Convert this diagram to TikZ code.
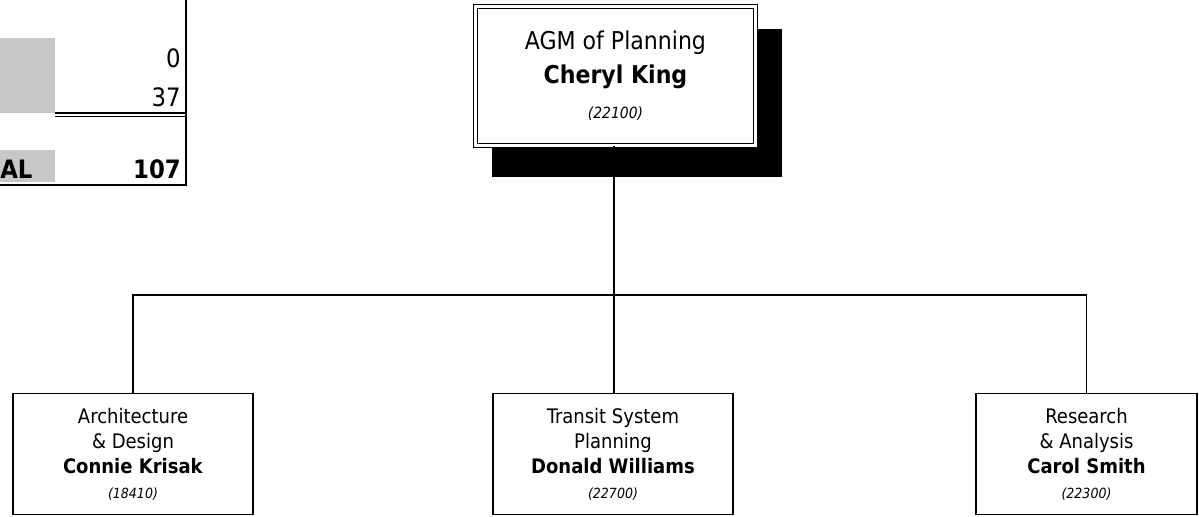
\documentclass[tikz,border=0pt]{standalone}
\usepackage{fontspec}
\setmainfont{DejaVu Sans Condensed}
\begin{document}
\begin{tikzpicture}[x=0.75pt,y=-0.75pt,
  conn/.style={line width=0.8pt,black},
  unitbox/.style={draw,line width=1pt,fill=white,minimum width=240*0.75pt,minimum height=121*0.75pt,
    inner sep=0pt,align=center,font=\fontsize{15}{18.75}\selectfont},
  headbox/.style={draw,fill=white,double,double distance=2.2pt,line width=0.8pt,
    minimum width=280*0.75pt,minimum height=139*0.75pt,inner sep=0pt,align=center,
    font=\fontsize{18.4}{25.5}\selectfont},
  hatch/.style={fill=black!22,draw=none},
  tabnum/.style={font=\fontsize{19}{22}\selectfont,anchor=base east,inner sep=0pt}]
\useasboundingbox (0,0) rectangle (1199,517);

% summary table, right part
\fill[hatch] (0,38) rectangle (55,113);
\fill[hatch] (0,150) rectangle (55,182);
\draw[line width=0.9pt] (186,0) -- (186,185) -- (0,185);
\draw[line width=0.8pt] (55,113) -- (186,113);
\draw[line width=0.8pt] (55,116.5) -- (186,116.5);
\node[tabnum] (vzero) at (181,68) {0};
\node[tabnum] (vthree) at (181,106) {37};
\node[tabnum,anchor=base west,font=\fontsize{19}{22}\selectfont\bfseries] (vtotlab) at (0,178) {AL};
\node[tabnum,font=\fontsize{19}{22}\selectfont\bfseries] (vtot) at (181,178) {107};

% shadow and head box
\fill[black] (492,29) rectangle (782,177);
\node[headbox] (agm) at (615.5,76)
  {AGM of Planning\\ \textbf{Cheryl King}\\[1pt] {\fontsize{11.6}{12}\selectfont\itshape (22100)}};

% units
\node[unitbox] (arch) at (133,454)
  {Architecture\\ \& Design\\ \textbf{Connie Krisak}\\ {\fontsize{10.5}{12}\selectfont\itshape (18410)}};
\node[unitbox] (tsp) at (613,454)
  {Transit System\\ Planning\\ \textbf{Donald Williams}\\ {\fontsize{10.5}{12}\selectfont\itshape (22700)}};
\node[unitbox,minimum width=221*0.75pt] (ra) at (1086.5,454)
  {Research\\ \& Analysis\\ \textbf{Carol Smith}\\ {\fontsize{10.5}{12}\selectfont\itshape (22300)}};

% connectors
\coordinate (bus) at (614,295);
\draw[conn] (agm.south -| bus) -- (bus);
\draw[conn] (arch.north) |- (bus) -| (ra.north);
\draw[conn] (bus) -- (tsp.north -| bus);
\end{tikzpicture}
\end{document}
